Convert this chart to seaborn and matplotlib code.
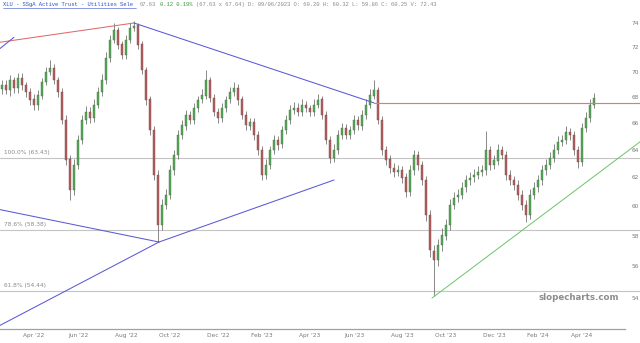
import numpy as np
import pandas as pd
import matplotlib
matplotlib.use("Agg")
import matplotlib.pyplot as plt
import matplotlib.transforms as mtransforms
from matplotlib.ticker import NullLocator, NullFormatter
import seaborn as sns

# ---------------- data ----------------
ticker_title = "XLU - SSgA Active Trust - Utilities Sele"
quote_text = "67.63"
change_text = "0.12 0.19%"
detail_text = "(67.63 x 67.64) D: 09/06/2023 O: 60.20 H: 60.32 L: 59.86 C: 60.25 V: 72.43"

opens = [68.6, 68.9, 68.5, 69.3, 68.7, 69.5, 68.9, 68.4, 67.8, 67.4,
         68.1, 69.2, 70.0, 70.3, 69.3, 68.4, 66.2, 63.3, 61.1, 62.9,
         64.7, 66.2, 66.8, 66.4, 67.4, 68.4, 69.3, 71.1, 72.6, 73.4,
         72.2, 71.3, 72.6, 73.6, 73.8, 72.2, 70.1, 67.8, 65.5, 62.2,
         58.7, 60.1, 60.8, 62.5, 63.6, 65.1, 65.8, 66.6, 66.2, 67.1,
         67.8, 68.1, 69.3, 67.9, 66.8, 66.4, 67.1, 67.8, 68.4, 68.7,
         67.8, 66.6, 65.8, 66.1, 65.1, 64.0, 62.2, 62.9, 64.0, 64.7,
         64.4, 65.5, 66.2, 67.0, 67.1, 66.8, 67.4, 67.1, 66.8, 67.4,
         67.8, 66.6, 64.7, 63.4, 64.0, 65.1, 65.6, 65.1, 65.5, 66.2,
         65.8, 66.6, 67.4, 68.1, 68.5, 66.2, 64.0, 63.3, 62.7, 62.4,
         62.5, 62.0, 61.0, 62.5, 63.6, 62.9, 61.8, 59.4, 57.0, 56.4,
         57.4, 58.0, 58.7, 60.1, 60.6, 60.8, 61.3, 61.8, 62.0, 62.2,
         62.4, 62.5, 64.0, 62.9, 63.2, 64.0, 63.6, 62.2, 61.8, 61.5,
         60.8, 60.1, 59.4, 60.8, 61.3, 61.8, 62.5, 62.9, 63.4, 64.0,
         64.6, 64.7, 65.3, 65.1, 64.0, 63.1, 65.6, 66.4, 67.4]
highs = [69.3, 69.3, 69.7, 69.6, 69.9, 69.9, 69.2, 68.7, 68.2, 68.5,
         69.5, 70.4, 70.9, 70.6, 69.6, 68.7, 66.6, 63.6, 63.3, 65.1,
         66.6, 67.3, 67.2, 67.8, 68.8, 69.8, 71.6, 73.0, 74.0, 73.7,
         72.5, 73.0, 74.0, 74.2, 74.0, 72.5, 70.4, 68.1, 65.8, 62.5,
         60.5, 61.2, 62.9, 64.0, 65.5, 66.2, 67.0, 66.9, 67.5, 68.1,
         68.6, 70.1, 69.6, 68.2, 67.1, 67.5, 68.1, 68.8, 69.2, 69.0,
         68.1, 66.9, 66.4, 66.4, 65.4, 64.3, 63.3, 64.3, 65.1, 65.0,
         65.8, 66.6, 67.4, 67.6, 67.5, 67.8, 67.7, 67.4, 67.8, 68.2,
         68.1, 66.9, 65.0, 64.4, 65.5, 66.0, 65.9, 65.8, 66.6, 66.5,
         67.0, 67.8, 68.6, 69.3, 68.8, 66.5, 64.3, 63.6, 63.0, 62.9,
         62.8, 62.3, 62.9, 64.0, 63.9, 63.2, 62.1, 59.7, 57.4, 57.8,
         58.5, 59.1, 60.5, 61.0, 61.2, 61.7, 62.2, 62.4, 62.6, 62.8,
         62.9, 65.4, 64.3, 63.6, 64.4, 64.3, 63.9, 62.5, 62.1, 61.8,
         61.1, 60.4, 61.2, 61.7, 62.2, 62.9, 63.3, 63.8, 64.4, 65.0,
         65.1, 65.8, 65.6, 65.4, 64.3, 66.0, 66.8, 67.8, 68.3]
lows = [68.2, 68.2, 68.1, 68.3, 68.3, 68.5, 68.0, 67.4, 67.0, 67.0,
        67.8, 68.9, 69.7, 69.0, 68.0, 65.9, 62.9, 60.4, 60.8, 62.6,
        64.4, 65.9, 66.0, 66.1, 67.1, 68.1, 69.0, 70.8, 72.3, 71.8,
        71.0, 71.0, 72.3, 73.3, 71.8, 69.8, 67.4, 65.1, 61.8, 57.6,
        58.4, 59.8, 60.5, 62.2, 63.3, 64.8, 65.5, 65.9, 65.9, 66.8,
        67.5, 67.8, 67.6, 66.5, 66.0, 66.1, 66.8, 67.5, 68.1, 67.4,
        66.3, 65.5, 65.5, 64.7, 63.6, 61.8, 61.9, 62.6, 63.7, 64.0,
        64.1, 65.2, 65.9, 66.7, 66.5, 66.5, 66.8, 66.5, 66.5, 67.1,
        66.3, 64.4, 63.0, 63.1, 63.7, 64.8, 64.8, 64.8, 65.2, 65.5,
        65.5, 66.3, 67.1, 67.8, 65.9, 63.6, 62.9, 62.3, 62.0, 62.1,
        61.6, 60.6, 60.7, 62.2, 62.5, 61.5, 59.0, 56.6, 54.1, 56.0,
        57.0, 57.7, 58.4, 59.8, 60.3, 60.5, 61.0, 61.5, 61.7, 61.9,
        62.1, 62.2, 62.5, 62.6, 62.9, 63.3, 61.8, 61.5, 61.1, 60.4,
        59.7, 58.9, 59.1, 60.5, 61.0, 61.5, 62.2, 62.6, 63.1, 63.7,
        64.3, 64.4, 64.7, 63.6, 62.7, 62.8, 65.3, 66.1, 67.1]
closes = [68.93, 68.54, 69.33, 68.70, 69.49, 68.93, 68.38, 67.76, 67.37, 68.14,
          69.17, 69.96, 70.28, 69.33, 68.38, 66.22, 63.25, 61.12, 62.89, 64.72,
          66.22, 66.83, 66.37, 67.37, 68.38, 69.33, 71.09, 72.58, 73.41, 72.16,
          71.34, 72.58, 73.58, 73.76, 72.16, 70.12, 67.76, 65.47, 62.17, 58.71,
          60.07, 60.77, 62.53, 63.62, 65.09, 65.84, 66.60, 66.22, 67.14, 67.76,
          68.14, 69.33, 67.91, 66.83, 66.37, 67.14, 67.76, 68.38, 68.70, 67.76,
          66.60, 65.84, 66.07, 65.09, 63.98, 62.17, 62.89, 63.98, 64.72, 64.35,
          65.47, 66.22, 66.98, 67.14, 66.83, 67.37, 67.14, 66.83, 67.37, 67.76,
          66.60, 64.72, 63.40, 63.98, 65.09, 65.62, 65.09, 65.47, 66.22, 65.84,
          66.60, 67.37, 68.14, 68.54, 66.22, 63.98, 63.25, 62.67, 62.38, 62.53,
          61.96, 60.98, 62.53, 63.62, 62.89, 61.82, 59.39, 57.05, 56.40, 57.38,
          58.04, 58.71, 60.07, 60.56, 60.77, 61.26, 61.82, 61.96, 62.17, 62.38,
          62.53, 63.98, 62.89, 63.25, 63.98, 63.62, 62.17, 61.82, 61.47, 60.77,
          60.07, 59.39, 60.77, 61.26, 61.82, 62.53, 62.89, 63.40, 63.98, 64.57,
          64.72, 65.32, 65.09, 63.98, 63.11, 65.62, 66.37, 67.37, 67.91]

month_labels = ["Apr '22", "Jun '22", "Aug '22", "Oct '22", "Dec '22", "Feb '23", "Apr '23",
                "Jun '23", "Aug '23", "Oct '23", "Dec '23", "Feb '24", "Apr '24"]
month_bars = [8, 19, 31, 42, 54, 65, 77, 88, 100, 111, 123, 134, 145]

price_ticks = [54, 56, 58, 60, 62, 64, 66, 68, 70, 72, 74]

fib_levels = [63.43, 58.38, 54.44]
fib_labels = ["100.0% (63.43)", "78.6% (58.38)", "61.8% (54.44)"]

resistance_level = 67.5
resistance_start_bar = 93

# trendline anchors: (bar, price) pairs
red_trend_bars, red_trend_prices = [0, 33], [72.41, 74.0]
blue_top_bars, blue_top_prices = [33, 93], [74.0, 67.53]
blue_desc_bars, blue_desc_prices = [0, 39.25], [59.73, 57.58]
blue_rise1_bars, blue_rise1_prices = [0, 39.25], [52.4, 57.58]
blue_rise2_bars, blue_rise2_prices = [39.25, 83], [57.58, 61.82]
blue_stub_bars, blue_stub_prices = [0, 3], [72.0, 72.8]
green_bars, green_prices = [107.5, 140], [54.0, 60.39]

# ---------------- figure ----------------
sns.set_theme(style="white")
plt.rcParams["font.family"] = ["DejaVu Sans"]

W, H = 640, 343
fig = plt.figure(figsize=(W / 100, H / 100), dpi=100)
fig.patch.set_facecolor("white")
ax_left, ax_right, ax_top, ax_bot = 0, 625, 10, 329
ax = fig.add_axes([ax_left / W, (H - ax_bot) / H, (ax_right - ax_left) / W, (ax_bot - ax_top) / H])
ax.set_facecolor("white")
ax.set_yscale("log")

XMIN, XMAX = -0.5, 155.75
XFIG = 159.75  # right edge of figure in bar units
YMIN, YMAX = 52.12, 75.11
ax.set_xlim(XMIN, XMAX)
ax.set_ylim(YMIN, YMAX)

df = pd.DataFrame({"o": opens, "h": highs, "l": lows, "c": closes})
df["bar"] = np.arange(len(df))
up = df["c"] >= df["o"]
green_c, red_c = "#5aa55a", "#b06262"
colors = np.where(up, green_c, red_c)
edge = np.where(up, "#3a7a3a", "#854040")

ax.vlines(df["bar"], df["l"], df["h"], color="#5a5a5a", lw=0.5, zorder=3)
body_lo = np.minimum(df["o"], df["c"])
body_h = np.maximum(np.abs(df["c"] - df["o"]), 0.04)
ax.bar(df["bar"], body_h, bottom=body_lo, width=0.48, color=colors,
       edgecolor=edge, linewidth=0.3, zorder=4)


def extend(bars, prices, xa, xb):
    x0, x1 = bars[0], bars[-1]
    l0, l1 = np.log(prices[0]), np.log(prices[-1])
    s = (l1 - l0) / (x1 - x0)
    return [xa, xb], [float(np.exp(l0 + s * (xa - x0))), float(np.exp(l0 + s * (xb - x0)))]


def seg(xs, ys, color, lw=0.75, clip=True, z=5):
    d = pd.DataFrame({"x": xs, "y": ys})
    sns.lineplot(data=d, x="x", y="y", ax=ax, color=color, lw=lw, estimator=None,
                 sort=False, legend=False, zorder=z)
    ax.lines[-1].set_clip_on(clip)


blue = "#5a5ad6"
# fib levels
for lvl, lab in zip(fib_levels, fib_labels):
    seg([XMIN, XFIG], [lvl, lvl], "#c4c4c4", lw=0.8, clip=False, z=2)
    trans = mtransforms.blended_transform_factory(ax.transAxes, ax.transData)
    ax.text(0.006, lvl * 1.0035, lab, transform=trans, fontsize=4.2, color="#8a8a8a",
            va="bottom", ha="left", zorder=6)

# red lines
xs, ys = extend(red_trend_bars, red_trend_prices, XMIN, red_trend_bars[1])
seg(xs, ys, "#e06a6a")
seg([resistance_start_bar, XFIG], [resistance_level, resistance_level], "#e07a7a", lw=0.85, clip=False)

# blue lines
seg(blue_top_bars, blue_top_prices, blue)
xs, ys = extend(blue_desc_bars, blue_desc_prices, XMIN, blue_desc_bars[1])
seg(xs, ys, blue)
xs, ys = extend(blue_rise1_bars, blue_rise1_prices, XMIN, blue_rise1_bars[1])
seg(xs, ys, blue)
seg(blue_rise2_bars, blue_rise2_prices, blue)
xs, ys = extend(blue_stub_bars, blue_stub_prices, XMIN, blue_stub_bars[1])
seg(xs, ys, blue)

# green support
xs, ys = extend(green_bars, green_prices, green_bars[0], XFIG)
seg(xs, ys, "#72c872", lw=0.75, clip=False)

# axes styling
for s in ["top", "left", "right"]:
    ax.spines[s].set_visible(False)
ax.spines["bottom"].set_color("#a0a0a0")
ax.spines["bottom"].set_linewidth(0.9)

ax.yaxis.tick_right()
ax.yaxis.set_minor_locator(NullLocator())
ax.yaxis.set_minor_formatter(NullFormatter())
ax.set_yticks(price_ticks)
ax.set_yticklabels([str(v) for v in price_ticks])
ax.tick_params(axis="y", length=0, pad=5, labelsize=4.2, labelcolor="#7a7a7a")
ax.set_xticks(month_bars)
ax.set_xticklabels(month_labels)
ax.tick_params(axis="x", length=0, pad=3, labelsize=4.2, labelcolor="#7a7a7a")
ax.set_xlabel("")
ax.set_ylabel("")
ax.grid(False)

# title pieces (monospace, placed on a character grid)
ty = 1 - 4.5 / H
mono = "Liberation Mono"
cw = 3.33  # px per character
x0 = 3
pieces = [(ticker_title, 0, "#3050c8"), (quote_text, 41, "#8a8a8a"),
          (change_text, 47, "#3a9a3a"), (detail_text, 58, "#8a8a8a")]
for txt, col0, colr in pieces:
    fig.text((x0 + col0 * cw) / W, ty, txt, fontsize=4.0, family=mono, color=colr,
             va="center", ha="left")
fig.add_artist(plt.Line2D([x0 / W, (x0 + 40 * cw) / W], [1 - 8 / H, 1 - 8 / H],
                          color="#3050c8", lw=0.4))

# watermark
fig.text(579 / W, 1 - 297 / H, "slopecharts.com", fontsize=6.2, fontweight="bold",
         color="#8c8c8c", ha="center", va="center")

fig.savefig("out.png", dpi=100, facecolor="white")
